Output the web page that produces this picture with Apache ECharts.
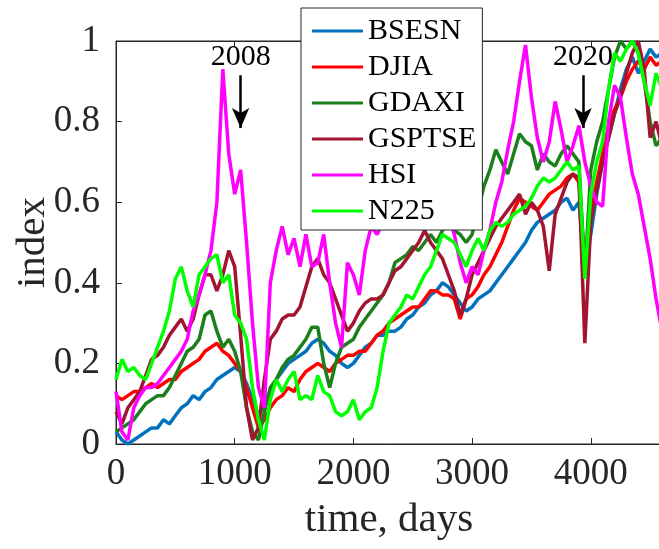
<!DOCTYPE html>
<html>
<head>
<meta charset="utf-8">
<script src="https://cdn.jsdelivr.net/npm/echarts@6/dist/echarts.min.js"></script>
<style>html,body{margin:0;padding:0;background:#fff;}#c{width:659px;height:549px;}</style>
</head>
<body>
<div id="c"></div>
<script>
const days = [0,50,100,150,200,250,300,350,400,450,500,550,600,650,700,750,800,850,900,950,
1000,1050,1100,1150,1200,1250,1300,1350,1400,1450,1500,1550,1600,1650,1700,1750,1800,1850,1900,1950,
2000,2050,2100,2150,2200,2250,2300,2350,2400,2450,2500,2550,2600,2650,2700,2750,2800,2850,2900,2950,
3000,3050,3100,3150,3200,3250,3300,3350,3400,3450,3500,3550,3600,3650,3700,3750,3800,3850,3900,3950,
4000,4050,4100,4150,4200,4250,4300,4350,4400,4450,4500,4550,4600];

const BSESN = [0.03,0.01,0.00,0.01,0.02,0.03,0.04,0.04,0.06,0.05,0.07,0.09,0.10,0.12,0.11,0.13,0.14,0.16,0.17,0.18,
0.19,0.18,0.15,0.11,0.07,0.10,0.13,0.16,0.18,0.20,0.21,0.22,0.23,0.25,0.26,0.25,0.23,0.22,0.20,0.19,
0.20,0.22,0.24,0.25,0.27,0.27,0.28,0.28,0.29,0.31,0.32,0.34,0.35,0.37,0.38,0.40,0.39,0.37,0.35,0.33,
0.34,0.36,0.37,0.38,0.40,0.42,0.44,0.46,0.48,0.50,0.53,0.55,0.56,0.57,0.58,0.60,0.61,0.58,0.60,0.44,
0.52,0.62,0.70,0.76,0.82,0.88,0.93,0.96,0.92,0.95,0.98,0.96,0.97];

const DJIA = [0.12,0.11,0.12,0.13,0.13,0.14,0.15,0.14,0.15,0.16,0.16,0.18,0.19,0.20,0.21,0.23,0.24,0.25,0.23,0.22,
0.20,0.18,0.14,0.09,0.04,0.06,0.09,0.11,0.12,0.14,0.13,0.16,0.18,0.19,0.20,0.19,0.18,0.20,0.21,0.22,
0.22,0.23,0.23,0.25,0.27,0.28,0.30,0.31,0.32,0.33,0.34,0.34,0.36,0.38,0.38,0.37,0.37,0.36,0.31,0.36,
0.37,0.39,0.42,0.44,0.47,0.50,0.54,0.58,0.61,0.60,0.59,0.58,0.60,0.62,0.63,0.64,0.66,0.67,0.65,0.45,
0.57,0.65,0.72,0.79,0.83,0.86,0.90,0.93,0.95,0.93,0.96,0.94,0.95];

const GDAXI = [0.03,0.04,0.05,0.06,0.08,0.10,0.11,0.12,0.12,0.14,0.17,0.20,0.23,0.24,0.26,0.32,0.33,0.28,0.24,0.26,
0.23,0.18,0.09,0.03,0.01,0.08,0.14,0.16,0.19,0.21,0.22,0.24,0.26,0.29,0.29,0.20,0.14,0.20,0.24,0.25,
0.26,0.29,0.31,0.33,0.35,0.37,0.40,0.45,0.46,0.47,0.49,0.48,0.50,0.52,0.50,0.53,0.55,0.53,0.52,0.50,
0.52,0.58,0.64,0.68,0.73,0.70,0.67,0.72,0.77,0.75,0.74,0.68,0.72,0.70,0.69,0.72,0.74,0.72,0.70,0.42,
0.68,0.75,0.80,0.88,0.96,1.00,0.98,1.00,0.97,0.90,0.80,0.74,0.76];

const GSPTSE = [0.08,0.05,0.09,0.11,0.13,0.17,0.21,0.22,0.24,0.27,0.29,0.31,0.28,0.31,0.37,0.42,0.42,0.38,0.42,0.48,
0.44,0.27,0.09,0.01,0.04,0.16,0.26,0.28,0.31,0.32,0.32,0.34,0.39,0.44,0.46,0.42,0.40,0.36,0.32,0.28,
0.30,0.33,0.35,0.36,0.36,0.37,0.40,0.43,0.44,0.46,0.48,0.50,0.53,0.50,0.48,0.46,0.42,0.38,0.32,0.36,
0.42,0.45,0.48,0.51,0.54,0.56,0.58,0.60,0.62,0.57,0.60,0.58,0.54,0.43,0.57,0.61,0.65,0.67,0.66,0.25,
0.55,0.63,0.70,0.76,0.82,0.86,0.92,0.97,1.00,0.93,0.76,0.80,0.74];

const HSI = [0.13,0.03,0.01,0.09,0.12,0.14,0.14,0.15,0.17,0.19,0.21,0.23,0.26,0.33,0.37,0.42,0.48,0.60,0.93,0.72,
0.62,0.68,0.50,0.30,0.14,0.09,0.40,0.48,0.54,0.47,0.51,0.44,0.52,0.44,0.45,0.52,0.40,0.30,0.24,0.45,
0.42,0.37,0.48,0.54,0.52,0.55,0.58,0.62,0.66,0.63,0.70,0.74,0.68,0.64,0.60,0.62,0.57,0.52,0.45,0.40,
0.44,0.42,0.48,0.53,0.60,0.65,0.73,0.80,0.90,0.99,0.86,0.76,0.70,0.75,0.85,0.78,0.70,0.74,0.79,0.70,
0.64,0.60,0.59,0.80,0.89,0.86,0.76,0.67,0.62,0.54,0.46,0.36,0.28];

const N225 = [0.16,0.21,0.18,0.19,0.17,0.16,0.20,0.24,0.28,0.33,0.41,0.44,0.38,0.34,0.42,0.44,0.46,0.47,0.40,0.42,
0.32,0.30,0.26,0.14,0.06,0.01,0.11,0.16,0.13,0.16,0.18,0.11,0.12,0.11,0.17,0.13,0.12,0.08,0.07,0.08,
0.11,0.06,0.08,0.09,0.14,0.23,0.30,0.32,0.34,0.37,0.36,0.39,0.42,0.44,0.48,0.52,0.51,0.50,0.47,0.44,
0.48,0.51,0.48,0.53,0.55,0.54,0.55,0.57,0.58,0.59,0.61,0.64,0.66,0.65,0.66,0.68,0.70,0.68,0.69,0.41,
0.62,0.70,0.75,0.88,0.97,0.95,0.98,1.00,0.97,0.90,0.84,0.92,0.88];

const seriesNames = ['BSESN','DJIA','GDAXI','GSPTSE','HSI','N225'];
const seriesValues = [BSESN, DJIA, GDAXI, GSPTSE, HSI, N225];
const seriesColors = ['#0072BD','#FF0000','#1B7F1B','#A2142F','#FF00FF','#00FF00'];

const xTicks = [0,1000,2000,3000,4000];
const yTicks = [0,0.2,0.4,0.6,0.8,1];

// annotation arrows: [label, day, topValue, tipValue]
const annotations = [['2008',1050,0.915,0.784],['2020',3935,0.915,0.784]];

const FONT = 'Liberation Serif';
const TXT = '#262626';

const chart = echarts.init(document.getElementById('c'), null, {renderer:'canvas'});

const series = seriesNames.map((n,i)=>({
  name:n, type:'line', symbol:'none', showSymbol:false, animation:false,
  data: days.map((d,k)=>[d, seriesValues[i][k]]),
  lineStyle:{color:seriesColors[i], width:3.5},
  itemStyle:{color:seriesColors[i]},
  clip:true
}));
series[5].markLine = {
  silent:true, animation:false,
  symbol:['none','arrow'], symbolSize:[13,20],
  lineStyle:{color:'#000', width:2.5, type:'solid'},
  label:{show:true, position:'start', formatter:p=>p.name, fontSize:30, fontFamily:FONT, color:'#000', distance:3},
  data: annotations.map(a=>[{name:a[0], coord:[a[1],a[2]]},{coord:[a[1],a[3]]}])
};

chart.setOption({
  backgroundColor:'#fff',
  animation:false,
  grid:{left:116, top:41, width:546, height:403, show:true, borderColor:TXT, borderWidth:1, backgroundColor:'transparent', containLabel:false, outerBoundsMode:'none'},
  legend:{
    data:seriesNames, orient:'vertical', left:301, top:8,
    backgroundColor:'#fff', borderColor:TXT, borderWidth:1, borderRadius:0,
    padding:[8,6,4,11], itemGap:6, itemWidth:51, itemHeight:3, icon:'rect',
    textStyle:{fontSize:30, fontFamily:FONT, color:'#000', lineHeight:30},
    selectedMode:false
  },
  xAxis:[{
    type:'value', min:0, max:4600, interval:1000,
    name:'time, days', nameLocation:'middle', nameGap:56, nameMoveOverlap:false,
    nameTextStyle:{fontSize:41, fontFamily:FONT, color:TXT},
    axisLine:{show:true, lineStyle:{color:TXT, width:1}},
    axisTick:{show:true, inside:true, length:6, lineStyle:{color:TXT}},
    axisLabel:{fontSize:37, fontFamily:FONT, color:TXT, margin:12, formatter:v=>xTicks.includes(v)?String(v):''},
    splitLine:{show:false}
  },{
    type:'value', position:'top', min:0, max:4600, interval:1000,
    axisLine:{show:true, lineStyle:{color:TXT, width:1}},
    axisTick:{show:true, inside:true, length:6, lineStyle:{color:TXT}},
    axisLabel:{show:false}, splitLine:{show:false}
  }],
  yAxis:{
    type:'value', min:0, max:1, interval:0.2,
    name:'index', nameLocation:'middle', nameGap:62, nameRotate:90, nameMoveOverlap:false,
    nameTextStyle:{fontSize:41, fontFamily:FONT, color:TXT},
    axisLine:{show:true, lineStyle:{color:TXT, width:1}},
    axisTick:{show:true, inside:true, length:6, lineStyle:{color:TXT}},
    axisLabel:{fontSize:37, fontFamily:FONT, color:TXT, margin:16, formatter:v=>{const t=yTicks.find(y=>Math.abs(y-v)<1e-9);return t===undefined?'':String(t);}},
    splitLine:{show:false}
  },
  series: series
});
</script>
</body>
</html>
